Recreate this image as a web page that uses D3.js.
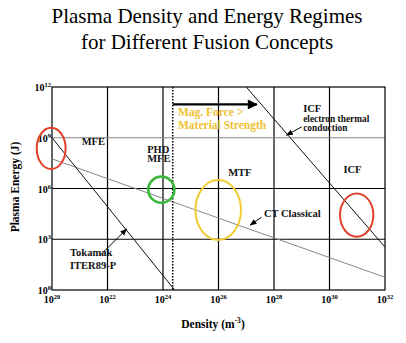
<!DOCTYPE html>
<html><head><meta charset="utf-8">
<script src="https://cdn.jsdelivr.net/npm/d3@7"></script>
<style>body{margin:0;background:#fff}svg{display:block}text{font-family:"Liberation Serif","Times New Roman",serif}</style>
</head><body><svg id="c" width="406" height="343"></svg>
<script>
// ---- data (log10 values) ----
const densityTicks = [20, 22, 24, 26, 28, 30, 32];
const energyTicks = [0, 3, 6, 9, 12];
// lines: [logDensity, logEnergy]
const tokamakLine = [[20, 9], [24.42, 0]];
const ctClassicalLine = [[20, 7.75], [32, 0.75]];
const icfConductionLine = [[27, 12], [32, 2.54]];
const magForceDensity = 24.35;
const magArrow = [[24.35, 10.97], [27.38, 10.97]];
// regimes: centre and half-spans in decades
const regimeNames = ["MFE", "PHD MFE", "MTF", "ICF"];
const regimeCx = [19.97, 23.94, 25.99, 30.98];
const regimeCy = [8.37, 5.93, 4.73, 4.43];
const regimeRx = [0.52, 0.47, 0.82, 0.6];
const regimeRy = [1.22, 0.77, 1.77, 1.28];
const regimeColors = ["#e0402a", "#3cb83c", "#f0cc30", "#e0402a"];
// labels
const labels = [
  {t: ["MFE"], x: 21.07, y: 8.57, lh: 12.5},
  {t: ["PHD", "MFE"], x: 23.43, y: 8.11, lh: 9.6},
  {t: ["MTF"], x: 26.35, y: 6.74, lh: 12.5},
  {t: ["ICF"], x: 29.05, y: 10.5, lh: 12.5},
  {t: ["ICF"], x: 30.5, y: 6.9, lh: 12.5},
  {t: ["CT Classical"], x: 27.64, y: 4.33, lh: 12.5},
  {t: ["Tokamak", "ITER89-P"], x: 20.65, y: 2.0, lh: 12.5}
];
const smallLabels = [{t: ["electron thermal", "conduction"], x: 29.05, y: 9.95}];
const magLabel = ["Mag. Force >", "Material Strength"];
const pointerArrows = [
  [[21.73, 2.05], [22.69, 3.6]],
  [[29.0, 9.65], [28.45, 9.15]],
  [[27.55, 4.3], [27.14, 3.84]]
];

// ---- chart ----
const svg = d3.select("#c");
const L = 52, R = 385, T = 87, B = 290;
const x = d3.scaleLinear().domain([20, 32]).range([L, R]);
const y = d3.scaleLinear().domain([0, 12]).range([B, T]);

const defs = svg.append("defs");
defs.append("marker").attr("id", "ah").attr("viewBox", "0 0 10 10").attr("refX", 9).attr("refY", 5)
  .attr("markerWidth", 7).attr("markerHeight", 7).attr("markerUnits", "userSpaceOnUse").attr("orient", "auto")
  .append("path").attr("d", "M0,1L10,5L0,9Z").attr("fill", "#000");
defs.append("marker").attr("id", "ahb").attr("viewBox", "0 0 10 10").attr("refX", 9).attr("refY", 5)
  .attr("markerWidth", 12).attr("markerHeight", 10).attr("markerUnits", "userSpaceOnUse").attr("orient", "auto")
  .append("path").attr("d", "M0,0L10,5L0,10Z").attr("fill", "#000");

// title
svg.append("text").attr("x", 207).attr("y", 23).attr("text-anchor", "middle").attr("font-size", 21).text("Plasma Density and Energy Regimes");
svg.append("text").attr("x", 207).attr("y", 49).attr("text-anchor", "middle").attr("font-size", 21).text("for Different Fusion Concepts");

// grid
const g = svg.append("g");
g.selectAll(".vg").data(densityTicks.slice(1, -1)).join("line")
  .attr("x1", d => x(d)).attr("x2", d => x(d)).attr("y1", T).attr("y2", B).attr("stroke", "#000").attr("stroke-width", 1.2);
g.selectAll(".hg").data(energyTicks.slice(1, -1)).join("line")
  .attr("x1", L).attr("x2", R).attr("y1", d => y(d)).attr("y2", d => y(d))
  .attr("stroke", d => d === 9 ? "#888" : "#000").attr("stroke-width", 1.2);
g.append("rect").attr("x", L).attr("y", T).attr("width", R - L).attr("height", B - T).attr("fill", "none").attr("stroke", "#000").attr("stroke-width", 1.2);

// ticks labels
const xl = svg.append("g");
densityTicks.forEach(d => {
  const t = xl.append("text").attr("x", x(d)).attr("y", 303).attr("text-anchor", "middle").attr("font-weight", "bold").attr("font-size", 10);
  t.append("tspan").text("10");
  t.append("tspan").attr("font-size", 6.5).attr("dy", -4).text(d);
});
energyTicks.forEach(d => {
  const t = xl.append("text").attr("x", L - 1).attr("y", y(d) + 4).attr("text-anchor", "end").attr("font-weight", "bold").attr("font-size", 10);
  t.append("tspan").text("10");
  t.append("tspan").attr("font-size", 6.5).attr("dy", -4).text(d);
});

// axis titles
svg.append("text").attr("transform", "translate(19,187) rotate(-90)").attr("text-anchor", "middle").attr("font-weight", "bold").attr("font-size", 11.5).text("Plasma Energy (J)");
const xt = svg.append("text").attr("x", 213).attr("y", 328).attr("text-anchor", "middle").attr("font-weight", "bold").attr("font-size", 11.5);
xt.append("tspan").text("Density (m");
xt.append("tspan").attr("font-size", 7.5).attr("dy", -5).text("-3");
xt.append("tspan").attr("dy", 5).text(")");

// lines
const line = d3.line().x(d => x(d[0])).y(d => y(d[1]));
svg.append("path").attr("d", line(ctClassicalLine)).attr("stroke", "#888").attr("fill", "none").attr("stroke-width", 1);
svg.append("path").attr("d", line(tokamakLine)).attr("stroke", "#111").attr("fill", "none").attr("stroke-width", 1);
svg.append("path").attr("d", line(icfConductionLine)).attr("stroke", "#111").attr("fill", "none").attr("stroke-width", 1);

// mag force
svg.append("line").attr("x1", x(magForceDensity)).attr("x2", x(magForceDensity)).attr("y1", T).attr("y2", B)
  .attr("stroke", "#000").attr("stroke-width", 1.5).attr("stroke-dasharray", "1.5,1.5");
svg.append("path").attr("d", line(magArrow)).attr("stroke", "#000").attr("stroke-width", 2.2).attr("marker-end", "url(#ahb)");
magLabel.forEach((s, i) => svg.append("text").attr("x", x(24.54)).attr("y", y(10.97) + 12 + i * 13)
  .attr("font-weight", "bold").attr("font-size", 11.5).attr("fill", "#f0c030").text(s));

// regimes
svg.selectAll(".reg").data(regimeNames).join("ellipse")
  .attr("cx", (d, i) => x(regimeCx[i])).attr("cy", (d, i) => y(regimeCy[i]))
  .attr("rx", (d, i) => x(regimeRx[i]) - x(0)).attr("ry", (d, i) => y(0) - y(regimeRy[i]))
  .attr("fill", "none").attr("stroke", (d, i) => regimeColors[i]).attr("stroke-width", (d, i) => i === 1 ? 2.6 : 2);

// labels
labels.forEach(l => l.t.forEach((s, i) => svg.append("text").attr("x", x(l.x)).attr("y", y(l.y) + i * l.lh)
  .attr("font-weight", "bold").attr("font-size", 10.5).attr("fill", "#111").text(s)));
smallLabels.forEach(l => l.t.forEach((s, i) => svg.append("text").attr("x", x(l.x)).attr("y", y(l.y) + 0.3 + i * 9)
  .attr("font-weight", "bold").attr("font-size", 9.4).attr("fill", "#111").text(s)));

// pointer arrows
pointerArrows.forEach(a => svg.append("path").attr("d", line(a)).attr("stroke", "#000").attr("stroke-width", 1).attr("marker-end", "url(#ah)"));
</script></body></html>
